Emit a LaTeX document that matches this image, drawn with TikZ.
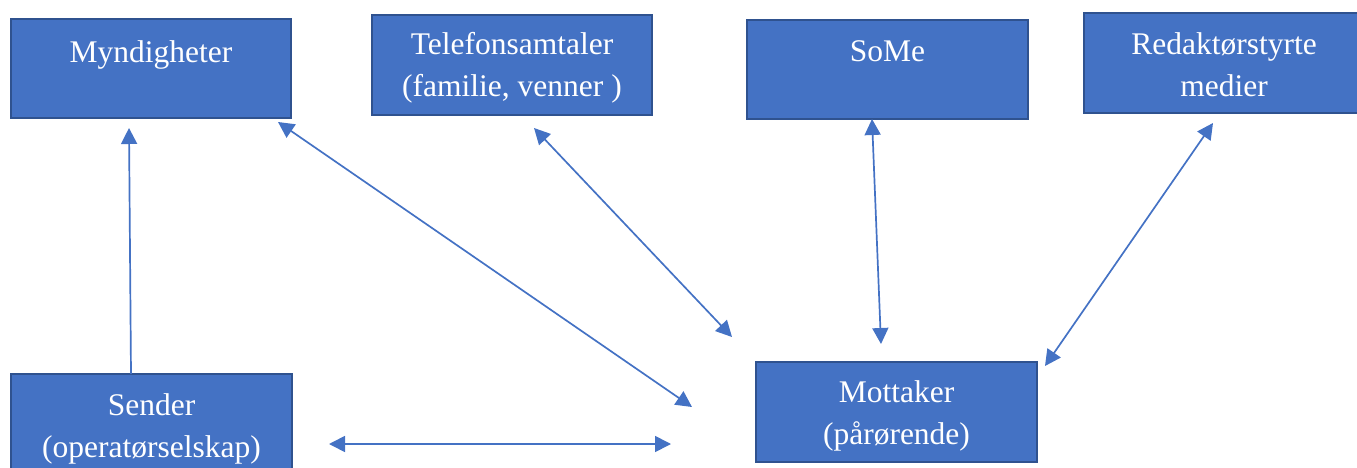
\documentclass[tikz,border=0pt]{standalone}
\usepackage{fontspec}
\setmainfont{Liberation Serif}
\usetikzlibrary{arrows.meta}

\definecolor{boxfill}{HTML}{4472C4}
\definecolor{boxline}{HTML}{2F528F}
\definecolor{arrowblue}{HTML}{4472C4}

% box content: #1 width, #2 height, #3 first-baseline offset, #4 text
\newcommand{\boxcontent}[4]{%
  \parbox[c][#2pt][t]{#1pt}{\centering\rule{0pt}{#3pt}#4}}

\tikzset{
  infobox/.style={draw=boxline, line width=2pt, fill=boxfill, inner sep=0pt,
    text=white, font=\fontsize{31.5}{42}\selectfont},
  link/.style={draw=arrowblue, line width=1.7pt},
  twoway/.style={link, {Triangle[length=16pt,width=16pt]}-{Triangle[length=16pt,width=16pt]}},
  oneway/.style={link, -{Triangle[length=16pt,width=16pt]}}
}

\begin{document}
\begin{tikzpicture}[x=1pt,y=-1pt]
\useasboundingbox (0,0) rectangle (1357,468);
\clip (0,0) rectangle (1357,468);

% boxes
\node[infobox] (myn) at (151,68.5) {\boxcontent{280}{99}{44}{Myndigheter}};
\node[infobox] (tel) at (512,65) {\boxcontent{280}{100}{40}{Telefonsamtaler\\(familie, venner )}};
\node[infobox] (some) at (887.5,69.5) {\boxcontent{281}{99}{42}{SoMe}};
\node[infobox] (red) at (1224,63) {\boxcontent{280}{100}{42}{Redaktørstyrte\\medier}};
\node[infobox] (sen) at (151.5,424) {\boxcontent{281}{100}{41}{Sender\\(operatørselskap)}};
\node[infobox] (mot) at (896.5,412) {\boxcontent{281}{100}{40}{Mottaker\\(pårørende)}};

% free connector ends
\coordinate (senTop) at (131,374);
\coordinate (mynIn) at (129,128);
\coordinate (mynOut) at (278,122);
\coordinate (motA) at (692,407);
\coordinate (telOut) at (534,128);
\coordinate (motB) at (732,337);
\coordinate (someOut) at (872,119);
\coordinate (motC) at (881,344);
\coordinate (redOut) at (1213,123);
\coordinate (motD) at (1045,366);
\coordinate (senRight) at (329,444);
\coordinate (motLeft) at (671,444);

% connectors
\draw[oneway] (senTop) -- (mynIn);
\draw[twoway] (mynOut) -- (motA);
\draw[twoway] (telOut) -- (motB);
\draw[twoway] (someOut) -- (motC);
\draw[twoway] (redOut) -- (motD);
\draw[twoway] (senRight) -- (motLeft);
\end{tikzpicture}
\end{document}
